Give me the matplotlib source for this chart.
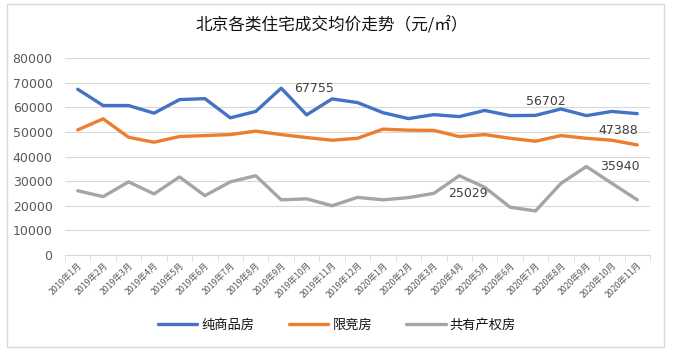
import matplotlib
matplotlib.use("Agg")
import matplotlib.pyplot as plt
from matplotlib.patches import Rectangle

plt.rcParams["font.family"] = ["Noto Sans CJK SC", "DejaVu Sans"]

months = [f"2019年{m}月" for m in range(1, 13)] + [f"2020年{m}月" for m in range(1, 12)]
commercial = [67300, 60700, 60700, 57600, 63100, 63500, 55700, 58300, 67755, 56900, 63400, 61900,
              57800, 55400, 57000, 56200, 58700, 56600, 56702, 59300, 56600, 58300, 57400]
limited = [50800, 55300, 47800, 45800, 48100, 48500, 48900, 50300, 48900, 47700, 46600, 47400,
           51100, 50700, 50600, 48100, 48900, 47400, 46200, 48500, 47388, 46600, 44700]
shared = [26100, 23700, 29700, 24800, 31700, 24100, 29700, 32200, 22400, 22800, 20000, 23400,
          22400, 23300, 25029, 32200, 27500, 19400, 17900, 29100, 35940, 29100, 22400]
series_names = ["纯商品房", "限竞房", "共有产权房"]
colors = ["#4472C4", "#ED7D31", "#A5A5A5"]
yticks = [0, 10000, 20000, 30000, 40000, 50000, 60000, 70000, 80000]

# (series index, point index, offset in pixels)
labels = [(0, 8, (33, 0)), (0, 18, (10, 14)), (1, 20, (32, 8)), (2, 14, (34, 0)), (2, 20, (33, 0))]

fig = plt.figure(figsize=(6.74, 3.52), dpi=100, facecolor="white")
fig.patches.append(Rectangle((7 / 674, 5 / 352), 657 / 674, 343 / 352, transform=fig.transFigure,
                             fill=False, edgecolor="#D9D9D9", linewidth=1))
ax = fig.add_axes([65 / 674, 1 - 255 / 352, 585 / 674, 197 / 352])

x = list(range(len(months)))
data = [commercial, limited, shared]
for vals, name, c in zip(data, series_names, colors):
    ax.plot(x, vals, color=c, linewidth=2.4, label=name, solid_capstyle="round", solid_joinstyle="round")

for si, pi, (dx, dy) in labels:
    ax.annotate(str(data[si][pi]), xy=(pi, data[si][pi]), xytext=(dx, dy),
                textcoords="offset pixels", ha="center", va="center",
                fontsize=9, color="#404040", family=["DejaVu Sans"])

ax.set_xlim(-0.5, len(months) - 0.5)
ax.set_ylim(0, 80000)
ax.set_yticks(yticks)
ax.set_yticklabels([str(v) for v in yticks], fontsize=9, color="#595959", family=["DejaVu Sans"])
ax.grid(axis="y", color="#D9D9D9", linewidth=0.8)
ax.set_axisbelow(True)
for s in ["top", "right", "left"]:
    ax.spines[s].set_visible(False)
ax.spines["bottom"].set_color("#D9D9D9")
ax.tick_params(axis="y", length=0, pad=9)

ax.set_xticks(x)
ax.set_xticklabels(months, rotation=45, ha="right", rotation_mode="anchor", fontsize=6.3, color="#595959")
ax.tick_params(axis="x", which="major", length=0, pad=4)
ax.set_xticks([i - 0.5 for i in range(len(months) + 1)], minor=True)
ax.tick_params(axis="x", which="minor", length=4, color="#D9D9D9", direction="out")

fig.text(0.492, 1 - 26 / 352, "北京各类住宅成交均价走势（元/㎡）", ha="center", va="center",
         fontsize=12, color="#111111", fontweight="medium")

fig.legend(loc="center", bbox_to_anchor=(0.5, 1 - 325 / 352), ncol=3, frameon=False,
           prop={"size": 9.5, "weight": "medium"}, labelcolor="#111111",
           handlelength=3.0, columnspacing=2.6, handletextpad=0.3)

fig.savefig("out.png", dpi=100, facecolor="white")
